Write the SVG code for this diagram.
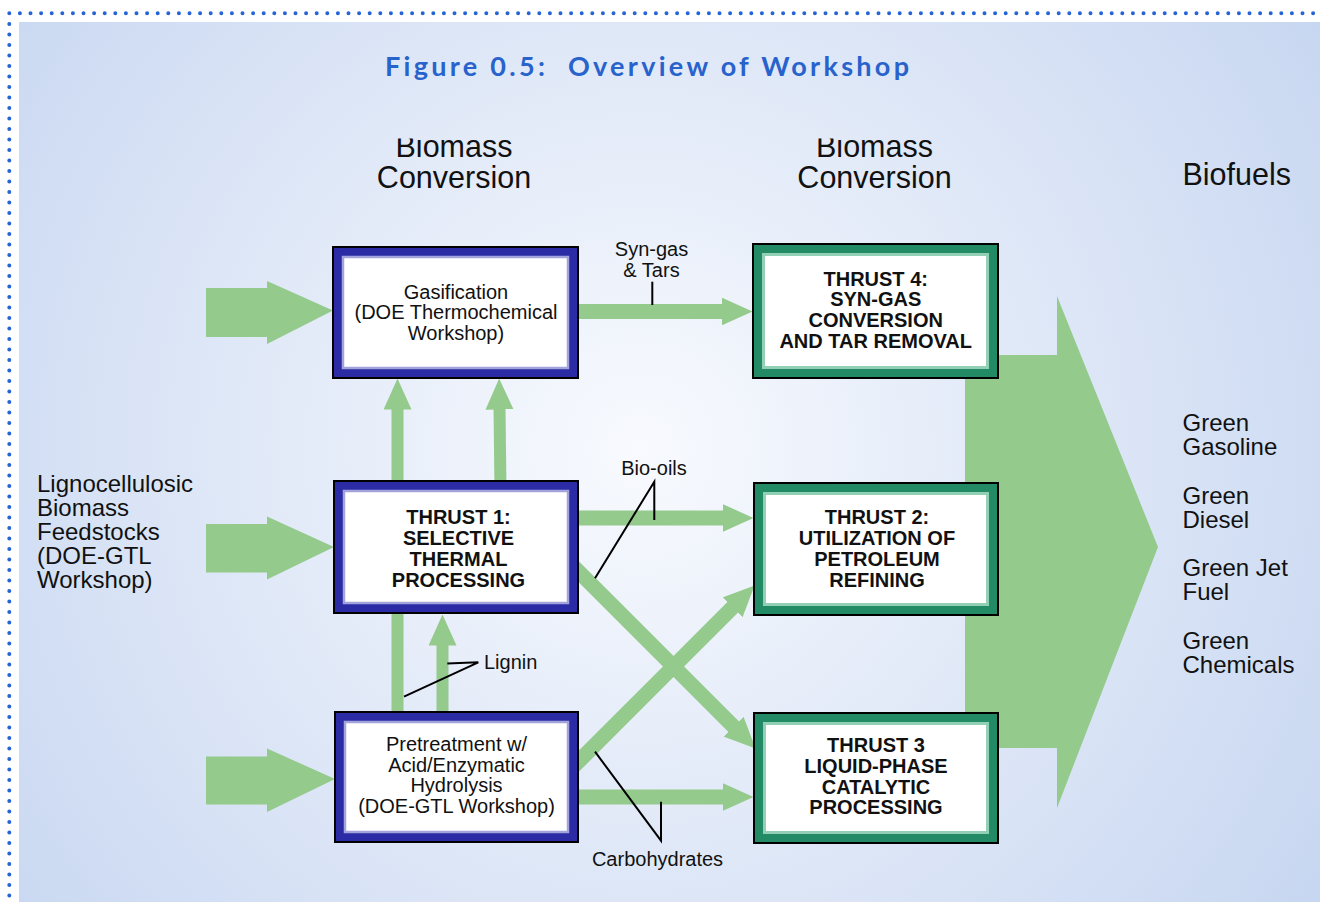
<svg xmlns="http://www.w3.org/2000/svg" width="1320" height="905" viewBox="0 0 1320 905">
<defs>
<radialGradient id="bg" gradientUnits="userSpaceOnUse" cx="640" cy="450" r="800">
<stop offset="0" stop-color="#f8fafe"/>
<stop offset="1" stop-color="#c8d7f1"/>
</radialGradient>
<marker id="ah" markerUnits="userSpaceOnUse" viewBox="0 0 31 28" markerWidth="31" markerHeight="28" refX="0.5" refY="14" orient="auto"><path d="M0,0 L31,14 L0,28 Z" fill="#94ca8c"/></marker>
<clipPath id="hclip"><rect x="0" y="138.5" width="1320" height="800"/></clipPath>
<style>
.t{font-family:"Liberation Sans",Arial,sans-serif;fill:#111}
.node text{font-size:20px;text-anchor:middle}
.b{font-weight:bold}
.h{font-size:30.5px}
.side{font-size:24px}
.lbl{font-size:20px}
.flow{stroke:#94ca8c;fill:none;stroke-width:15;marker-end:url(#ah)}
.v{stroke-width:12}
.big{fill:#94ca8c}
.ptr{stroke:#000;stroke-width:2;fill:none}
.blue .o{fill:#2b2ba6;stroke:#000;stroke-width:2}
.blue .i{fill:#fff;stroke:#a3a3dc;stroke-width:2.5}
.green .o{fill:#238a66;stroke:#000;stroke-width:2}
.green .i{fill:#fff;stroke:#92d0b6;stroke-width:3}
.dots{stroke:#2563d6;stroke-width:4;stroke-linecap:round;stroke-dasharray:0 10.6;fill:none}
</style>
</defs>
<rect x="0" y="0" width="1320" height="905" fill="#fff"/>
<rect x="19" y="22" width="1301" height="880" fill="url(#bg)"/>
<path class="dots" d="M9.3,13.3 H1320"/>
<path class="dots" style="stroke-dasharray:0 10.5" d="M9.3,24 V902"/>

<text x="385" y="75.5" xml:space="preserve" font-family="Lato,'Open Sans',sans-serif" font-weight="bold" font-size="27" fill="#2862cc" textLength="524" lengthAdjust="spacing">Figure 0.5:  Overview of Workshop</text>

<g clip-path="url(#hclip)">
<text class="t h" x="454" y="157" text-anchor="middle">Biomass</text>
<text class="t h" x="874.5" y="157" text-anchor="middle">Biomass</text>
</g>
<text class="t h" x="454" y="188" text-anchor="middle">Conversion</text>
<text class="t h" x="874.5" y="188" text-anchor="middle">Conversion</text>
<text class="t h" x="1182.5" y="185">Biofuels</text>

<text class="t side" x="37" y="491.5">Lignocellulosic</text>
<text class="t side" x="37" y="515.5">Biomass</text>
<text class="t side" x="37" y="539.5">Feedstocks</text>
<text class="t side" x="37" y="564">(DOE-GTL</text>
<text class="t side" x="37" y="588">Workshop)</text>

<text class="t side" x="1182.5" y="430.5">Green</text>
<text class="t side" x="1182.5" y="454.5">Gasoline</text>
<text class="t side" x="1182.5" y="503.5">Green</text>
<text class="t side" x="1182.5" y="527.5">Diesel</text>
<text class="t side" x="1182.5" y="576">Green Jet</text>
<text class="t side" x="1182.5" y="600">Fuel</text>
<text class="t side" x="1182.5" y="648.5">Green</text>
<text class="t side" x="1182.5" y="672.5">Chemicals</text>

<g id="connectors">
<polygon class="big" points="965,355 1057,355 1057,296 1158,547 1057,808 1057,748 965,748"/>
<polygon class="big" points="206,288 267,288 267,281 333,310.5 267,344 267,337 206,337"/>
<polygon class="big" points="206,524 267,524 267,516.5 334,547 267,579.5 267,572.5 206,572.5"/>
<polygon class="big" points="206,756.5 267,756.5 267,748.5 335,779 267,812 267,804.5 206,804.5"/>
<line class="flow" x1="570" y1="311.5" x2="722" y2="311.5"/>
<line class="flow" x1="570" y1="518" x2="723" y2="518"/>
<line class="flow" x1="570" y1="797" x2="723" y2="797"/>
<line class="flow" x1="560" y1="553" x2="734" y2="727"/>
<line class="flow" x1="560" y1="780" x2="733" y2="607"/>
<line class="flow v" x1="397.5" y1="720" x2="397.5" y2="409"/>
<line class="flow v" x1="500.5" y1="490" x2="499.5" y2="409"/>
<line class="flow v" x1="442.5" y1="720" x2="442.5" y2="645"/>
<path class="ptr" d="M652.3,281.7 V305"/>
<path class="ptr" d="M595,578.3 L654.3,481.7 V520"/>
<path class="ptr" d="M447.3,663.5 L478.3,662.3 L404,696.7"/>
<path class="ptr" d="M595,751.7 L661,840.7 V801.7"/>
</g>

<text class="t lbl" x="651.5" y="256" text-anchor="middle">Syn-gas</text>
<text class="t lbl" x="651.5" y="276.5" text-anchor="middle">&amp; Tars</text>
<text class="t lbl" x="654" y="475" text-anchor="middle">Bio-oils</text>
<text class="t lbl" x="484" y="669">Lignin</text>
<text class="t lbl" x="657.5" y="865.5" text-anchor="middle">Carbohydrates</text>

<g id="gasification" class="node blue">
<rect class="o" x="333" y="247" width="245" height="131"/>
<rect class="i" x="343" y="257" width="225" height="111"/>
<text class="t" x="456" y="298.5">Gasification</text>
<text class="t" x="456" y="319">(DOE Thermochemical</text>
<text class="t" x="456" y="339.5">Workshop)</text>
</g>

<g id="thrust1" class="node blue">
<rect class="o" x="334" y="481" width="244" height="132"/>
<rect class="i" x="344" y="491" width="224" height="112"/>
<text class="t b" x="458.5" y="524.3">THRUST 1:</text>
<text class="t b" x="458.5" y="545.1">SELECTIVE</text>
<text class="t b" x="458.5" y="565.9">THERMAL</text>
<text class="t b" x="458.5" y="586.7">PROCESSING</text>
</g>

<g id="pretreatment" class="node blue">
<rect class="o" x="335" y="712" width="243" height="130"/>
<rect class="i" x="345" y="722" width="223" height="110"/>
<text class="t" x="456.5" y="750.7">Pretreatment w/</text>
<text class="t" x="456.5" y="771.5">Acid/Enzymatic</text>
<text class="t" x="456.5" y="792.3">Hydrolysis</text>
<text class="t" x="456.5" y="813.1">(DOE-GTL Workshop)</text>
</g>

<g id="thrust4" class="node green">
<rect class="o" x="753" y="244" width="245" height="134"/>
<rect class="i" x="763.5" y="254.5" width="224" height="113"/>
<text class="t b" x="875.7" y="285.7">THRUST 4:</text>
<text class="t b" x="875.7" y="306.4">SYN-GAS</text>
<text class="t b" x="875.7" y="327.1">CONVERSION</text>
<text class="t b" x="875.7" y="347.8">AND TAR REMOVAL</text>
</g>

<g id="thrust2" class="node green">
<rect class="o" x="754" y="483" width="244" height="132"/>
<rect class="i" x="764.5" y="493.5" width="223" height="111"/>
<text class="t b" x="877" y="523.5">THRUST 2:</text>
<text class="t b" x="877" y="544.5">UTILIZATION OF</text>
<text class="t b" x="877" y="565.5">PETROLEUM</text>
<text class="t b" x="877" y="586.5">REFINING</text>
</g>

<g id="thrust3" class="node green">
<rect class="o" x="754" y="713" width="244" height="130"/>
<rect class="i" x="764.5" y="723.5" width="223" height="109"/>
<text class="t b" x="876" y="752">THRUST 3</text>
<text class="t b" x="876" y="772.8">LIQUID-PHASE</text>
<text class="t b" x="876" y="793.6">CATALYTIC</text>
<text class="t b" x="876" y="814.4">PROCESSING</text>
</g>
</svg>
